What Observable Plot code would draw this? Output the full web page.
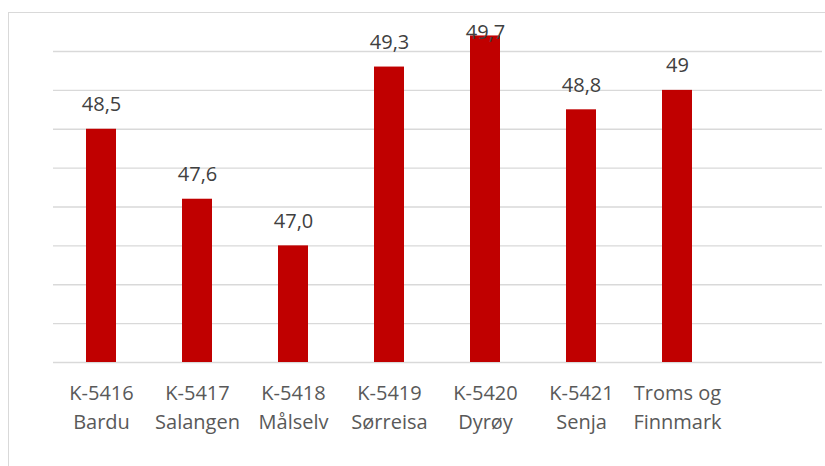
<!DOCTYPE html>
<html>
<head>
<meta charset="utf-8">
<script src="https://cdn.jsdelivr.net/npm/d3@7"></script>
<script src="https://cdn.jsdelivr.net/npm/@observablehq/plot@0.6"></script>
<style>
  html, body { margin: 0; padding: 0; background: #fff; overflow: hidden; }
  #wrap { position: relative; width: 825px; height: 466px; }
  #border { position: absolute; left: 8px; top: 12px; width: 840px; height: 480px;
            border: 1.3px solid #d9d9d9; box-sizing: border-box; pointer-events: none; }
</style>
</head>
<body>
<div id="wrap"><div id="border"></div></div>
<script>
const categories = ["K-5416\nBardu", "K-5417\nSalangen", "K-5418\nMålselv", "K-5419\nSørreisa", "K-5420\nDyrøy", "K-5421\nSenja", "Troms og\nFinnmark"];
const values = [48.5, 47.6, 47.0, 49.3, 49.7, 48.75, 49.0];
const valueLabels = ["48,5", "47,6", "47,0", "49,3", "49,7", "48,8", "49"];
const yTicks = [45.5, 46, 46.5, 47, 47.5, 48, 48.5, 49, 49.5];
const baseline = 45.5;
const labelMax = 49.43;

const data = categories.map((c, i) => ({cat: c, v: values[i], label: valueLabels[i]}));

const chart = Plot.plot({
  width: 825,
  height: 466,
  marginLeft: 53,
  marginRight: 3,
  marginTop: 51,
  marginBottom: 104,
  style: {fontFamily: "'Open Sans', sans-serif", background: "transparent", overflow: "visible"},
  x: {domain: categories, range: [53, 725], paddingInner: 0.6875, paddingOuter: 0.34375, label: null},
  y: {domain: [45.5, 49.5], label: null, axis: null},
  marks: [
    Plot.gridY({ticks: yTicks, stroke: "#d9d9d9", strokeOpacity: 1, strokeWidth: 1.4}),
    Plot.barY(data, {x: "cat", y1: () => baseline, y2: "v", fill: "#c00000"}),
    Plot.text(data, {x: "cat", y: d => Math.min(d.v, labelMax), text: "label", dy: -18,
      lineAnchor: "bottom", fontSize: 20, fill: "#404040"}),
    Plot.axisX({tickSize: 0, tickPadding: 17, fontSize: 20, lineHeight: 1.45,
      lineWidth: Infinity, color: "#595959", fill: "#595959", label: null})
  ]
});
document.getElementById("wrap").prepend(chart);
chart.style.position = "absolute";
chart.style.left = "0";
chart.style.top = "0";
</script>
</body>
</html>
